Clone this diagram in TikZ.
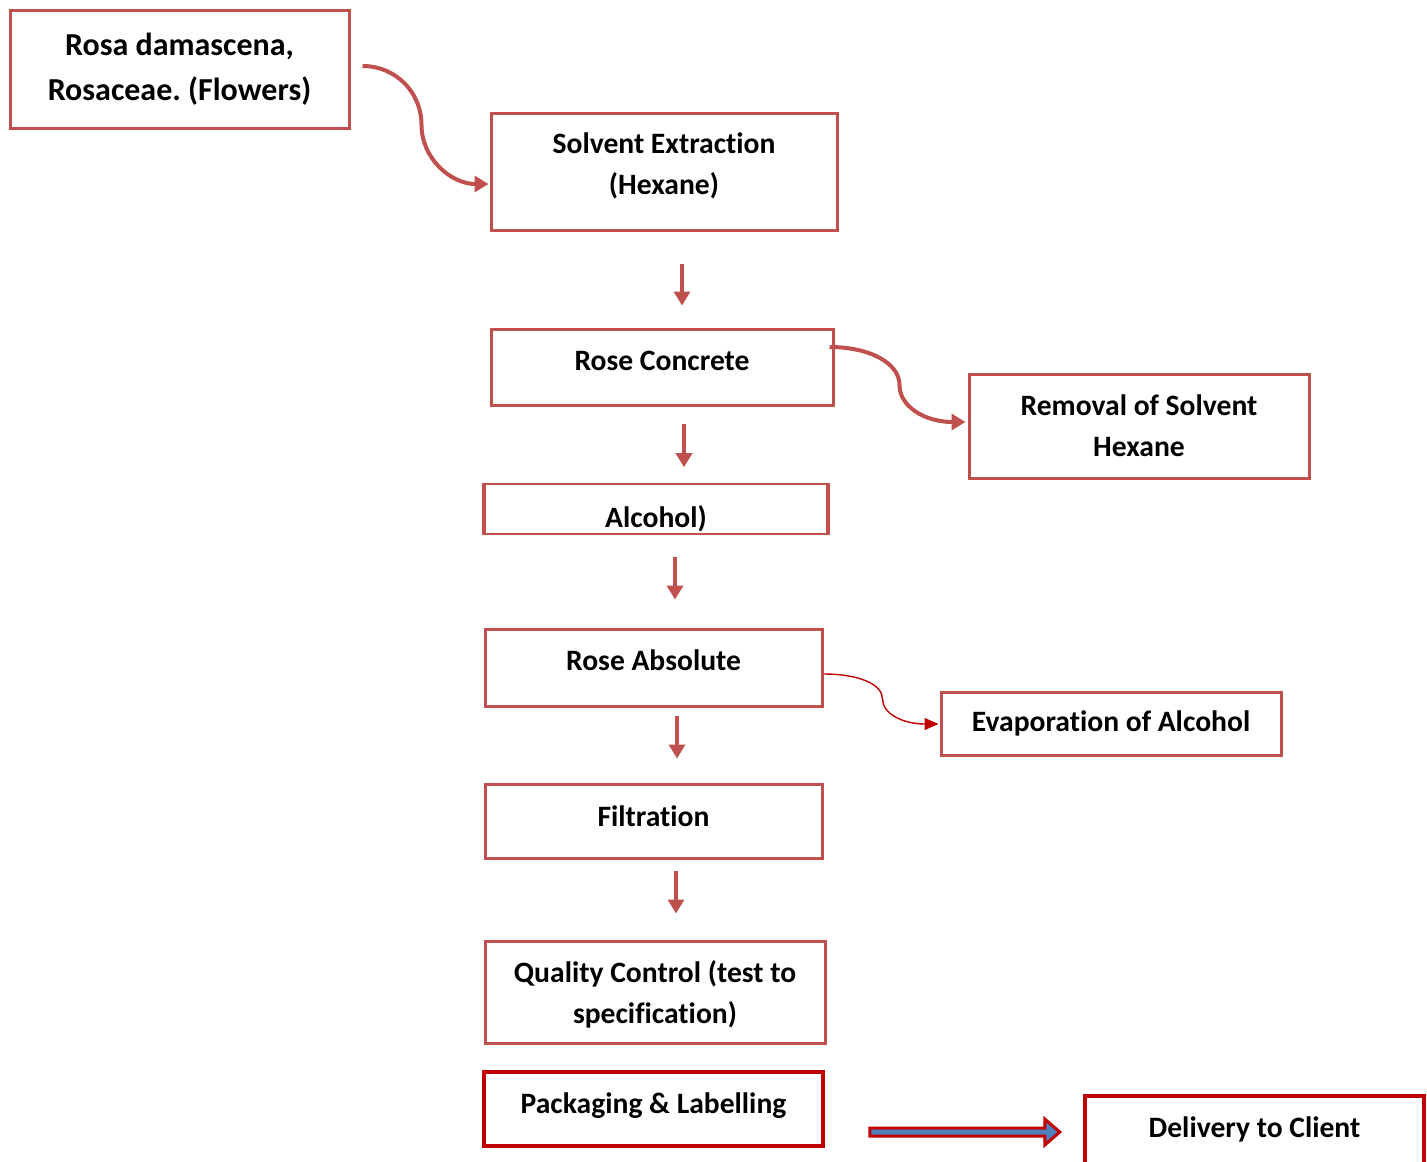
\documentclass[tikz,border=0pt]{standalone}
\usepackage{fontspec}
\setmainfont{Carlito}[Ligatures=NoCommon]
\usepackage{xcolor}
\definecolor{rosered}{HTML}{C0504D}
\definecolor{darkred}{HTML}{C00000}
\definecolor{steelblue}{HTML}{4F81BD}
\usetikzlibrary{arrows.meta,positioning}
\frenchspacing

\begin{document}
\begin{tikzpicture}[x=0.5pt, y=-0.5pt,
    procbox/.style={rectangle, draw=rosered, line width=1.5pt, fill=white,
        align=center, inner sep=0pt,
        font=\bfseries\fontsize{14.8pt}{20.5pt}\selectfont},
    redbox/.style={procbox, draw=darkred, line width=1.75pt},
    downarrow/.style={draw=rosered, line width=2pt,
        -{Triangle[length=7pt,width=8pt]}},
    bendarrow/.style={draw=rosered, line width=2pt,
        -{Triangle[length=7pt,width=8pt]}},
    thinarrow/.style={draw=darkred, line width=0.7pt,
        -{Triangle[length=7pt,width=6pt]}},
    blockarrow/.style={draw=darkred, fill=steelblue, line width=1.5pt,
        line join=miter}]
    \useasboundingbox (0,0) rectangle (1427,1161);
    % boxes
    \node (rosa) [procbox, minimum width=169.5pt, minimum height=58.5pt,
        font=\bfseries\fontsize{16pt}{22.5pt}\selectfont]
        at (179.5,69.5) {Rosa damascena,\\Rosaceae. (Flowers)};
    \node (solv) [procbox, minimum width=173pt, minimum height=58.5pt,
        text depth=8pt] at (664,171.5) {Solvent Extraction\\(Hexane)};
    \node (conc) [procbox, minimum width=171pt, minimum height=38pt,
        text height=7pt, text depth=3.6pt] at (662,367) {Rose Concrete};
    \node (rem) [procbox, minimum width=170pt, minimum height=52pt]
        at (1139,426) {Removal of Solvent\\Hexane};
    \node (alc) [procbox, line width=0.8pt, minimum width=171pt,
        minimum height=25pt, text height=18.5pt, text depth=0pt]
        at (656,509) {Alcohol)};
    \node (abs) [procbox, minimum width=168.5pt, minimum height=38.5pt,
        text height=7pt, text depth=4.1pt] at (653.5,667.5) {Rose Absolute};
    \node (evap) [procbox, minimum width=170pt, minimum height=31.5pt,
        text height=11pt, text depth=3pt] at (1111,723.5) {Evaporation of Alcohol};
    \node (filt) [procbox, minimum width=168.5pt, minimum height=37pt,
        text height=9pt, text depth=3.6pt] at (653.5,821) {Filtration};
    \node (qc) [procbox, minimum width=170pt, minimum height=51pt,
        text depth=0pt] at (655,992) {Quality Control (test to\\specification)};
    \node (pack) [redbox, minimum width=169.5pt, minimum height=37pt,
        text height=8pt, text depth=3.6pt] at (653.5,1109) {Packaging \& Labelling};
    \node (deliv) [redbox, minimum width=169.5pt, minimum height=35pt,
        text height=9.5pt, text depth=3pt] at (1254.5,1131) {Delivery to Client};
    % thick sides of the alcohol box
    \draw[rosered, line width=2pt] (alc.north west) -- (alc.south west)
        (alc.north east) -- (alc.south east);
    % arrows down the main line
    \draw[downarrow] ([shift={(18,32)}]solv.south) -- ([shift={(20,-22)}]conc.north);
    \draw[downarrow] ([shift={(22,17)}]conc.south) -- ([shift={(28,-16)}]alc.north);
    \draw[downarrow] ([shift={(19,22)}]alc.south) -- ([shift={(21.5,-28)}]abs.north);
    \draw[downarrow] ([shift={(23.5,8)}]abs.south) -- ([shift={(23.5,-24)}]filt.north);
    \draw[downarrow] ([shift={(22.5,11)}]filt.south) -- ([shift={(21,-26)}]qc.north);
    % curved side arrows
    \draw[bendarrow] ([shift={(12,-3.5)}]rosa.east)
        .. controls +(33,0) and +(0,-33) .. ++(59,59)
        .. controls +(0,33) and +(-38,0) .. ([shift={(-1,12.5)}]solv.west);
    \draw[bendarrow] ([shift={(-5,-20)}]conc.east)
        .. controls +(40,0) and +(0,-22) .. ++(70,38)
        .. controls +(0,22) and +(-40,0) .. ([shift={(-2,-4)}]rem.west);
    \draw[thinarrow] ([shift={(0,6.5)}]abs.east)
        .. controls +(35,0) and +(0,-15) .. ++(59,25)
        .. controls +(0,15) and +(-35,0) .. ([shift={(-1,0.5)}]evap.west);
    % block arrow to delivery
    \draw[blockarrow] ([shift={(45,19)}]pack.east) -- ++(175,0) -- ++(0,-9)
        -- ++(15,13) -- ++(-15,13) -- ++(0,-9) -- ++(-175,0) -- cycle;
\end{tikzpicture}
\end{document}
